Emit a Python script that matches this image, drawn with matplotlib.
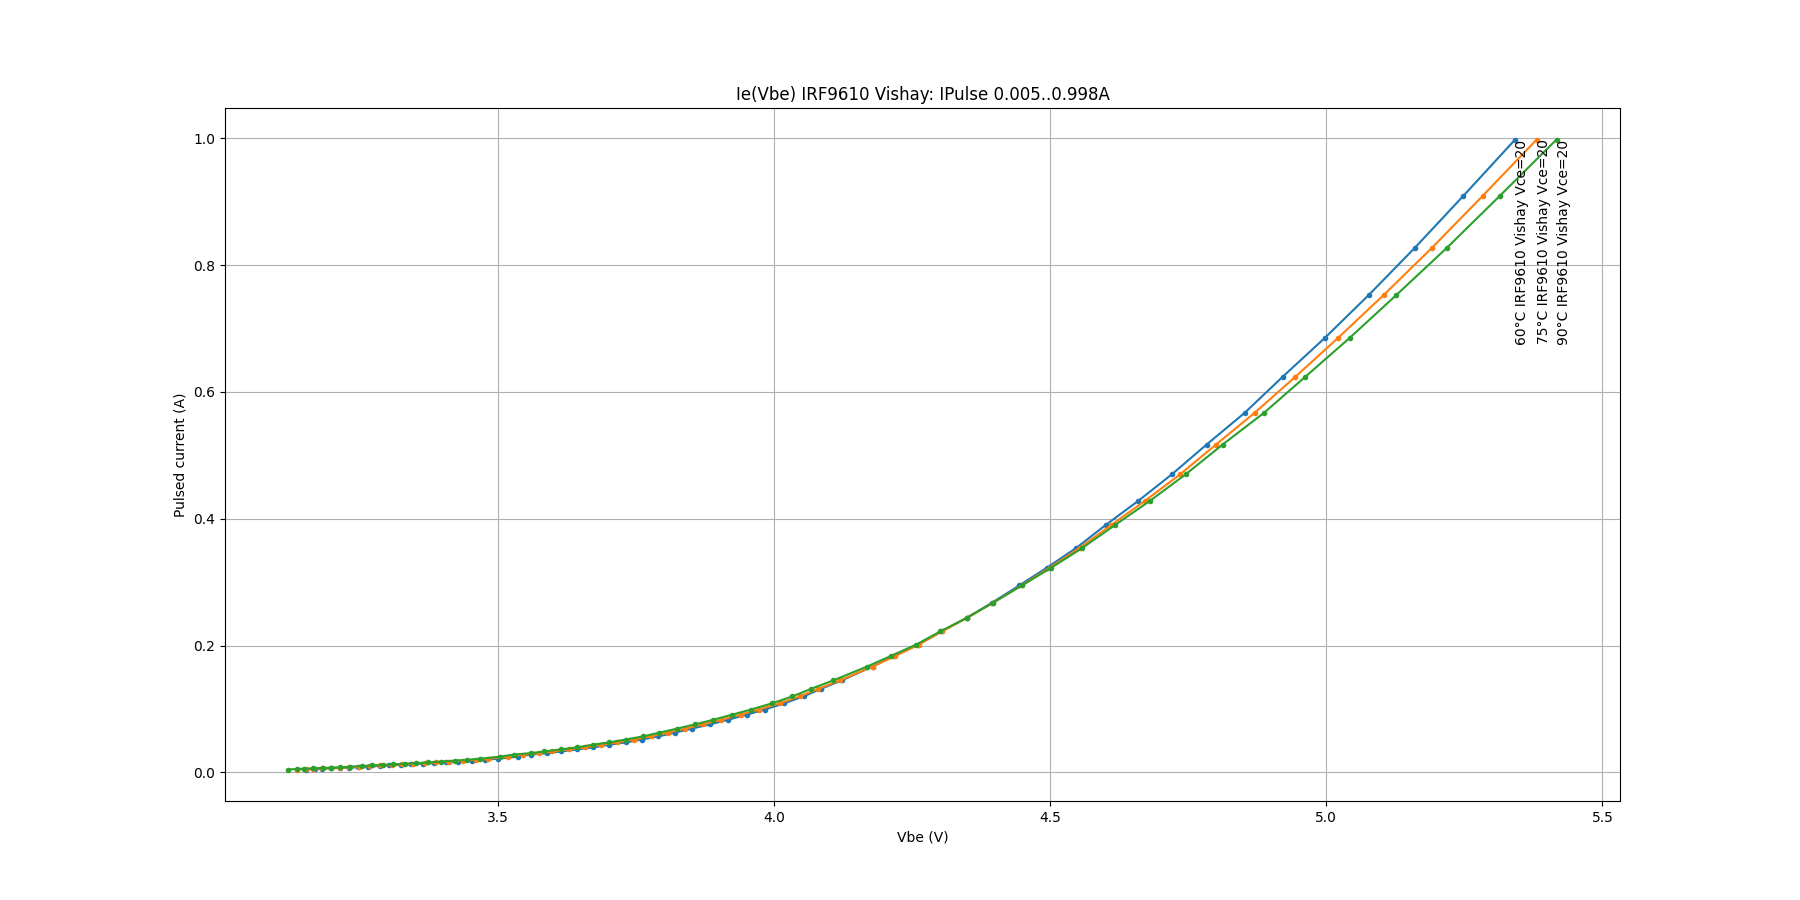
import matplotlib
matplotlib.use("Agg")
import matplotlib.pyplot as plt

# pulse current set points (A), shared by all three runs
ipulse = [0.0047, 0.0055, 0.0060, 0.0065, 0.0071, 0.0076, 0.0082, 0.0091, 0.0102, 0.0111,
          0.0119, 0.0128, 0.0139, 0.0147, 0.0158, 0.0172, 0.0187, 0.0200, 0.0216, 0.0250,
          0.0283, 0.0305, 0.0331, 0.0364, 0.0395, 0.0438, 0.0474, 0.0520, 0.0568, 0.0628,
          0.0692, 0.0758, 0.0830, 0.0912, 0.0993, 0.1090, 0.1200, 0.1320, 0.1452, 0.1670,
          0.1836, 0.2016, 0.2225, 0.2440, 0.2680, 0.2950, 0.3230, 0.3540, 0.3900, 0.4280,
          0.4700, 0.5170, 0.5670, 0.6240, 0.6850, 0.7530, 0.8270, 0.9090, 0.9980]

vbe_60 = [3.152, 3.168, 3.181, 3.197, 3.214, 3.230, 3.246, 3.264, 3.285, 3.303,
          3.324, 3.342, 3.363, 3.384, 3.405, 3.428, 3.453, 3.476, 3.499, 3.535,
          3.559, 3.589, 3.613, 3.643, 3.672, 3.701, 3.731, 3.760, 3.790, 3.820,
          3.851, 3.883, 3.916, 3.950, 3.983, 4.018, 4.053, 4.085, 4.122, 4.178,
          4.217, 4.260, 4.303, 4.349, 4.395, 4.444, 4.494, 4.547, 4.600, 4.659,
          4.720, 4.783, 4.852, 4.921, 4.997, 5.077, 5.160, 5.248, 5.342]

vbe_75 = [3.135, 3.151, 3.164, 3.180, 3.197, 3.213, 3.229, 3.247, 3.268, 3.286,
          3.307, 3.325, 3.346, 3.367, 3.388, 3.411, 3.436, 3.459, 3.482, 3.518,
          3.544, 3.574, 3.598, 3.628, 3.657, 3.686, 3.716, 3.746, 3.777, 3.807,
          3.839, 3.871, 3.904, 3.939, 3.972, 4.010, 4.046, 4.080, 4.119, 4.178,
          4.219, 4.262, 4.304, 4.350, 4.397, 4.448, 4.499, 4.553, 4.610, 4.671,
          4.735, 4.800, 4.870, 4.944, 5.021, 5.104, 5.191, 5.283, 5.381]

vbe_90 = [3.120, 3.136, 3.149, 3.165, 3.182, 3.198, 3.214, 3.232, 3.253, 3.271,
          3.292, 3.310, 3.331, 3.352, 3.373, 3.396, 3.421, 3.444, 3.467, 3.503,
          3.529, 3.559, 3.583, 3.613, 3.642, 3.671, 3.701, 3.731, 3.762, 3.792,
          3.824, 3.856, 3.889, 3.924, 3.958, 3.996, 4.033, 4.067, 4.107, 4.168,
          4.211, 4.257, 4.301, 4.349, 4.397, 4.449, 4.502, 4.558, 4.617, 4.680,
          4.745, 4.812, 4.887, 4.962, 5.042, 5.127, 5.218, 5.314, 5.417]

runs = [
    ("60°C IRF9610 Vishay Vce=20", vbe_60),
    ("75°C IRF9610 Vishay Vce=20", vbe_75),
    ("90°C IRF9610 Vishay Vce=20", vbe_90),
]

fig, ax = plt.subplots(figsize=(18, 9), dpi=100)

for label, vbe in runs:
    ax.plot(vbe, ipulse, marker=".")
    # label sits vertically next to the last point
    ax.text(vbe[-1], ipulse[-1], label, rotation=90, ha="left", va="top")

ax.set_title("Ie(Vbe) IRF9610 Vishay: IPulse 0.005..0.998A")
ax.set_xlabel("Vbe (V)")
ax.set_ylabel("Pulsed current (A)")
ax.grid(True)

plt.savefig("out.png", dpi=100)
